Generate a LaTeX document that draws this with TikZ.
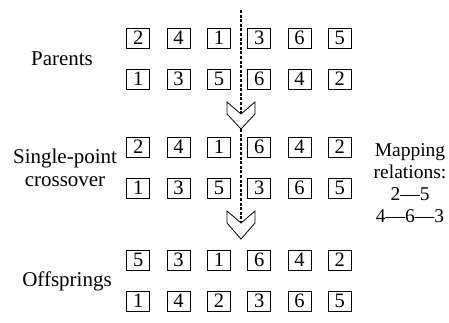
\documentclass[tikz,border=0pt]{standalone}
\usepackage{fontspec}
\setmainfont{Liberation Serif}[Ligatures=TeX]
\newfontfamily\timesfam{Liberation Serif}
\begin{document}
\begin{tikzpicture}[x=1pt,y=-1pt,
  gene/.style={draw, line width=0.8pt, minimum width=23pt, minimum height=20pt,
    inner sep=0pt, font=\timesfam\fontsize{20.5}{20}\selectfont},
  lbl/.style={font=\timesfam\fontsize{21}{22.5}\selectfont, align=center},
  chev/.style={draw, line width=0.8pt, line join=miter},
  cut/.style={line width=1.1pt, dash pattern=on 3pt off 1.6pt}]
\useasboundingbox (0,0) rectangle (449,322);

% gene strings: row name / y position / values
\foreach \r/\y/\vals in {pa/38/{2,4,1,3,6,5}, pb/79/{1,3,5,6,4,2},
                         ca/147/{2,4,1,6,4,2}, cb/188/{1,3,5,3,6,5},
                         oa/260/{5,3,1,6,4,2}, ob/301/{1,4,2,3,6,5}}{
  \foreach \v [count=\i] in \vals {
    \node[gene] (\r\i) at ({98+40.3*\i},\y) {\v};
  }
}

% row labels
\node[lbl] (lpar) at (62,59) {Parents};
\node[lbl] (lcro) at (65,168) {Single-point\\crossover};
\node[lbl] (loff) at (67,281) {Offsprings};
\node[lbl, font=\timesfam\fontsize{19.5}{22}\selectfont] (lmap) at (410,183)
  {Mapping\\relations:\\2—5\\4—6—3};

% crossover point and the two transition arrows
\coordinate (ctop) at (241,10);
\coordinate (n1) at (241,114);
\coordinate (t1) at (241,129);
\coordinate (n2) at (241,223);
\coordinate (t2) at (241,239);
\draw[chev] (227,102) -- (n1) -- (255,102) -- (255,114) -- (t1) -- (227,114) -- cycle;
\draw[chev] (227,211) -- (n2) -- (255,211) -- (255,223) -- (t2) -- (227,223) -- cycle;
\draw[cut] (ctop) -- (n1);
\draw[cut] (t1) -- (n2);
\end{tikzpicture}
\end{document}
